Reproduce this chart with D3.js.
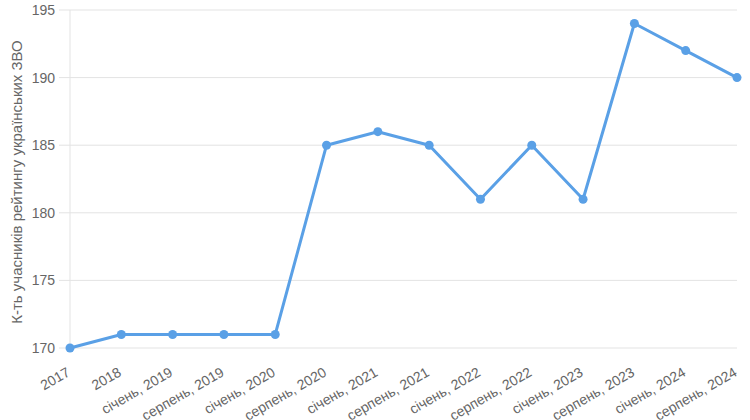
<!DOCTYPE html>
<html><head><meta charset="utf-8">
<script src="https://cdn.jsdelivr.net/npm/d3@7"></script>
<style>body{margin:0;background:#fff;} text{font-family:"Liberation Sans",Arial,sans-serif;}</style>
</head><body>
<svg id="c" width="750" height="420"></svg>
<script>
const categories = ["2017","2018","січень, 2019","серпень, 2019","січень, 2020","серпень, 2020","січень, 2021","серпень, 2021","січень, 2022","серпень, 2022","січень, 2023","серпень, 2023","січень, 2024","серпень, 2024"];
const values = [170,171,171,171,171,185,186,185,181,185,181,194,192,190];
const yTicks = [170,175,180,185,190,195];
const yTitle = "К-ть учасників рейтингу українських ЗВО";

(function(){
const svg = d3.select("#c");
const mL = 70, mR = 737, mT = 10, mB = 348;
const x = d3.scalePoint().domain(categories).range([mL, mR]);
const y = d3.scaleLinear().domain([170,195]).range([mB, mT]);

const grid = svg.append("g");
yTicks.forEach(t => {
  grid.append("line").attr("x1", mL-11).attr("x2", mR).attr("y1", y(t)).attr("y2", y(t))
    .attr("stroke", "#e3e3e3").attr("stroke-width", 1);
  grid.append("text").attr("x", mL-15).attr("y", y(t)).attr("dy", "0.35em")
    .attr("text-anchor", "end").attr("font-size", 14).attr("fill", "#666").text(t);
});
grid.append("line").attr("x1", mL).attr("x2", mL).attr("y1", mT).attr("y2", mB)
  .attr("stroke", "#e3e3e3");

categories.forEach(c => {
  svg.append("text").attr("transform", `translate(${x(c)+1},${mB+27}) rotate(-30)`)
    .attr("text-anchor", "end").attr("font-size", 14).attr("fill", "#666").text(c);
});

svg.append("text").attr("transform", `translate(22,${(mT+mB)/2+3}) rotate(-90)`)
  .attr("text-anchor", "middle").attr("font-size", 15).attr("fill", "#666").text(yTitle);

const line = d3.line().x((d,i) => x(categories[i])).y(d => y(d));
svg.append("path").datum(values).attr("d", line).attr("fill", "none")
  .attr("stroke", "#5aa0e6").attr("stroke-width", 3).attr("stroke-linejoin", "round");
svg.selectAll("circle.p").data(values).enter().append("circle")
  .attr("cx", (d,i) => x(categories[i])).attr("cy", d => y(d)).attr("r", 4.5).attr("fill", "#5aa0e6");
})();
</script>
</body></html>
